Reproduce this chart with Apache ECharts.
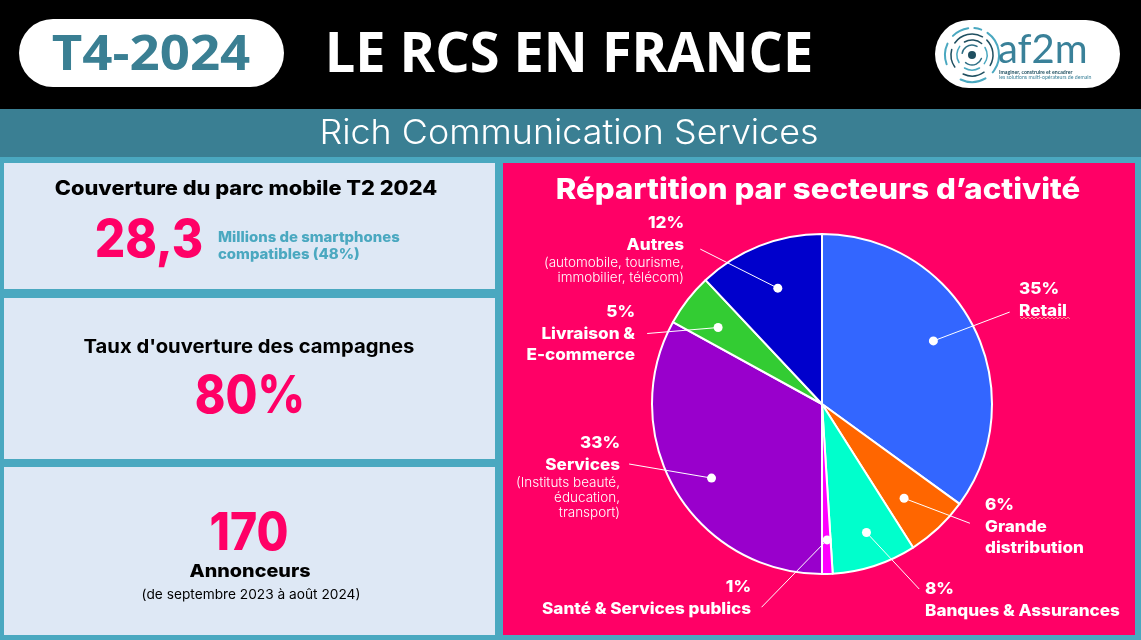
<!DOCTYPE html>
<html>
<head>
<meta charset="utf-8">
<title>Le RCS en France</title>
<script src="https://cdn.jsdelivr.net/npm/echarts@6/dist/echarts.min.js"></script>
<style>
html, body { margin: 0; padding: 0; background: #4aa8c0; }
#chart { width: 1141px; height: 640px; }
</style>
</head>
<body>
<div id="chart"></div>
<script>
// chart values
var sectors = ['Retail', 'Grande distribution', 'Banques & Assurances', 'Santé & Services publics', 'Services', 'Livraison & E-commerce', 'Autres'];
var shares = [35, 6, 8, 1, 33, 5, 12];
var sectorColors = ['#3366ff', '#ff6600', '#00ffcc', '#ff00ff', '#9900cc', '#33cc33', '#0000cc'];

// callouts, in polar values: radius in px, angle in % of the circle
var dotRadius = [128, 125, 136, 136, 133, 129, 124];
var dotAngle = [16.8, 38.6, 44.7, 49.4, 65.6, 85.1, 94.2];
var endRadius = [209, 190, 209, 212, 202, 188.5, 197];
var endAngle = [17.75, 35.8, 42.3, 54.6, 70.2, 81.1, 89.4];

var pink = '#ff0066', teal = '#3a7f93', sky = '#4aa8c0', paper = '#dee8f5';
var body = 'Inter', head = '"Open Sans"';

function rect(x, y, w, h, fill, r) {
    return { type: 'rect', shape: { x: x, y: y, width: w, height: h, r: r || 0 }, style: { fill: fill } };
}
function txt(x, y, text, size, weight, color, align, family, sx) {
    return {
        type: 'text', x: x, y: y, scaleX: sx || 1,
        style: {
            text: text, fill: color, align: align || 'center', verticalAlign: 'middle',
            font: (weight || 'normal') + ' ' + size + 'px ' + (family || body)
        }
    };
}
// callout label lines
function strong(x, y, text, align) {
    return txt(x, y + 1, text, 16, '800', '#ffffff', align, body, 1.07);
}
function thin(x, y, text, align) {
    return txt(x, y + 1, text, 13.5, '300', '#ffffff', align);
}
function arc(r, from, to, color, w) {
    return {
        type: 'arc',
        shape: { cx: 972, cy: 55, r: r, startAngle: from * Math.PI / 180, endAngle: to * Math.PI / 180 },
        style: { stroke: color, lineWidth: w || 2, fill: null, lineCap: 'round' }
    };
}

var elements = [
    // bands and panels
    rect(0, 0, 1141, 109, '#000000'),
    rect(0, 109, 1141, 48, teal),
    rect(4, 163, 491, 126, paper),
    rect(4, 298, 491, 161, paper),
    rect(4, 467, 491, 168, paper),
    rect(503, 163, 632, 472, pink),

    // header
    rect(19, 19, 265, 68, '#ffffff', 34),
    txt(151, 56, 'T4-2024', 48, 'bold', teal, 'center', head, 1.1),
    txt(569, 56, 'LE RCS EN FRANCE', 56, 'bold', '#ffffff', 'center', head, 0.966),
    txt(569, 134, 'Rich Communication Services', 34, '300', '#ffffff', 'center', body, 1.055),

    // logo
    rect(935, 20, 185, 68, '#ffffff', 34),
    { type: 'circle', shape: { cx: 972, cy: 55, r: 4 }, style: { fill: '#1f4f60' } },
    arc(10, 190, 300, '#2f6f85', 1.5), arc(10, 20, 130, '#2f6f85', 1.5),
    arc(15, 150, 215, sky, 1.5), arc(15, 240, 310, '#1f4f60', 1.5), arc(15, 330, 395, sky, 1.5), arc(15, 60, 120, sky, 1.5),
    arc(21, 215, 300, '#1f4f60', 1.5), arc(21, 315, 390, '#1f4f60', 1.5), arc(21, 55, 115, '#1f4f60', 1.5), arc(21, 145, 195, '#1f4f60', 1.5),
    arc(27, 160, 205, sky), arc(27, 225, 262, sky), arc(27, 275, 290, sky), arc(27, 305, 400, sky), arc(27, 60, 115, sky),
    txt(998, 50, 'af2m', 40, 'normal', '#3a8199', 'left', 'Lato'),
    txt(999, 72, 'Imaginer, construire et encadrer', 5.2, 'bold', '#1f4f60', 'left', 'Lato'),
    txt(999, 77.5, 'les solutions multi-opérateurs de demain', 5.2, 'normal', '#3a8199', 'left', 'Lato'),

    // kpi panels
    txt(246, 189, 'Couverture du parc mobile T2 2024', 20, '800', '#000000', 'center', body, 1.09),
    txt(149, 241, '28,3', 52, '800', pink, 'center', body, 0.92),
    txt(218, 238, 'Millions de smartphones', 14, '800', sky, 'left', body, 1.065),
    txt(218, 255, 'compatibles (48%)', 14, '800', sky, 'left', body, 1.065),
    txt(249, 347, "Taux d'ouverture des campagnes", 19, '700', '#000000', 'center', body, 1.065),
    txt(250, 397, '80%', 52, '800', pink, 'center', body, 0.89),
    txt(249, 534, '170', 52, '800', pink, 'center', body, 0.89),
    txt(250, 572, 'Annonceurs', 18, '800', '#000000', 'center', body, 1.1),
    txt(251, 595, '(de septembre 2023 à août 2024)', 13.5, 'normal', '#000000', 'center', body, 1.015),

    // pie title and labels
    txt(818, 190, 'Répartition par secteurs d’activité', 29, '800', '#ffffff', 'center', body, 1.075),
    strong(1019, 288, '35%', 'left'),
    strong(1019, 310, 'Retail', 'left'),
    strong(985, 504, '6%', 'left'),
    strong(985, 526, 'Grande', 'left'),
    strong(985, 547, 'distribution', 'left'),
    strong(925, 588, '8%', 'left'),
    strong(925, 610, 'Banques & Assurances', 'left'),
    strong(751, 586, '1%', 'right'),
    strong(751, 608, 'Santé & Services publics', 'right'),
    strong(620, 442, '33%', 'right'),
    strong(620, 464, 'Services', 'right'),
    thin(620, 482, '(Instituts beauté,', 'right'),
    thin(620, 497, 'éducation,', 'right'),
    thin(620, 512, 'transport)', 'right'),
    strong(635, 311, '5%', 'right'),
    strong(635, 333, 'Livraison &', 'right'),
    strong(635, 354, 'E-commerce', 'right'),
    strong(684, 222, '12%', 'right'),
    strong(684, 244, 'Autres', 'right'),
    thin(684, 262, '(automobile, tourisme,', 'right'),
    thin(684, 277, 'immobilier, télécom)', 'right')
];

// spell-check squiggle under Retail
var squiggle = [];
for (var x = 1020; x <= 1071; x += 2) {
    squiggle.push([x, x % 4 === 0 ? 317 : 319]);
}
elements.push({ type: 'polyline', shape: { points: squiggle }, style: { stroke: '#ff8a8a', lineWidth: 1, fill: null } });

var series = [{
    type: 'pie',
    center: [822, 404],
    radius: [0, 170],
    startAngle: 90,
    clockwise: true,
    animation: false,
    silent: true,
    label: { show: false },
    labelLine: { show: false },
    itemStyle: { borderColor: '#ffffff', borderWidth: 2 },
    data: sectors.map(function (name, i) {
        return { name: name, value: shares[i], itemStyle: { color: sectorColors[i] } };
    })
}];

sectors.forEach(function (name, i) {
    series.push({
        type: 'line',
        coordinateSystem: 'polar',
        name: name,
        z: 5,
        clip: false,
        animation: false,
        silent: true,
        symbol: function (value, params) { return params.dataIndex === 0 ? 'circle' : 'none'; },
        symbolSize: 9,
        itemStyle: { color: '#ffffff' },
        lineStyle: { color: '#ffffff', width: 1 },
        data: [[dotRadius[i], dotAngle[i]], [endRadius[i], endAngle[i]]]
    });
});

var chart = echarts.init(document.getElementById('chart'), null, { renderer: 'canvas' });
chart.setOption({
    backgroundColor: sky,
    animation: false,
    tooltip: { show: false },
    // radius axis runs 1:1 with pixels, wide enough for the callout ends
    polar: { center: [822, 404], radius: [0, 240] },
    angleAxis: { type: 'value', min: 0, max: 100, startAngle: 90, clockwise: true, show: false },
    radiusAxis: { type: 'value', min: 0, max: 240, show: false },
    graphic: { elements: elements },
    series: series
});
</script>
</body>
</html>
